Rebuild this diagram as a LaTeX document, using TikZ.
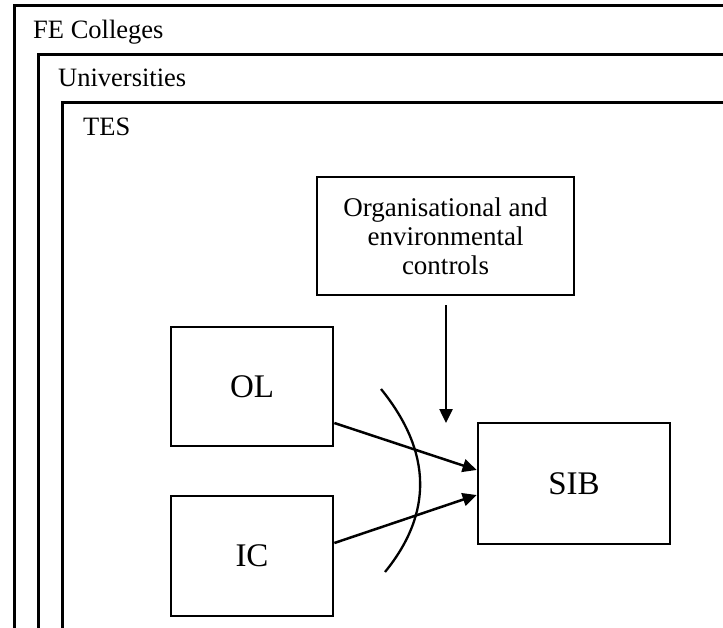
\documentclass[tikz,border=0pt]{standalone}
\usepackage{fontspec}
\setmainfont{Liberation Serif}
\usetikzlibrary{arrows.meta}
\begin{document}
\begin{tikzpicture}[x=1pt,y=-1pt,
  frame/.style={line width=3pt},
  blk/.style={draw,line width=2.7pt,inner sep=0pt,align=center},
  link/.style={line width=2.5pt,-{Triangle[length=14pt,width=13pt]}},
  tag/.style={anchor=base west,inner sep=0pt,font=\fontsize{26.5}{30}\selectfont}]
\useasboundingbox (0,0) rectangle (723,627);
\clip (0,0) rectangle (723,627);
% nested context frames, open to the right and below
\draw[frame] (14,640) -- (14,5) -- (740,5);
\draw[frame] (38,640) -- (38,54) -- (740,54);
\draw[frame] (62,640) -- (62,102) -- (740,102);
\node[tag] (fe) at (33,38) {FE Colleges};
\node[tag] (uni) at (58,86) {Universities};
\node[tag] (tes) at (83,135) {TES};
% blocks
\node[blk,minimum width=257pt,minimum height=118pt,font=\fontsize{27}{29}\selectfont] (oec) at (445.5,236) {Organisational and\\environmental\\controls};
\node[blk,minimum width=162pt,minimum height=119pt,font=\fontsize{33}{38}\selectfont] (ol) at (252,386.5) {OL};
\node[blk,minimum width=162pt,minimum height=120pt,font=\fontsize{33}{38}\selectfont] (ic) at (252,556) {IC};
\node[blk,minimum width=192pt,minimum height=121pt,font=\fontsize{33}{38}\selectfont] (sib) at (574,483.5) {SIB};
% influences
\coordinate (ctl) at (446,423);
\draw[link] (oec.south -| ctl) ++(0,9) -- (ctl);
\draw[link] (ol.east |- 0,423) -- (sib.west |- 0,470);
\draw[link] (ic.east |- 0,543) -- (sib.west |- 0,495);
% moderating arc
\coordinate (a0) at (381,389);
\coordinate (a1) at (385,572);
\draw[line width=2.3pt] (a0) .. controls (432,452) and (433,513) .. (a1);
\end{tikzpicture}
\end{document}
